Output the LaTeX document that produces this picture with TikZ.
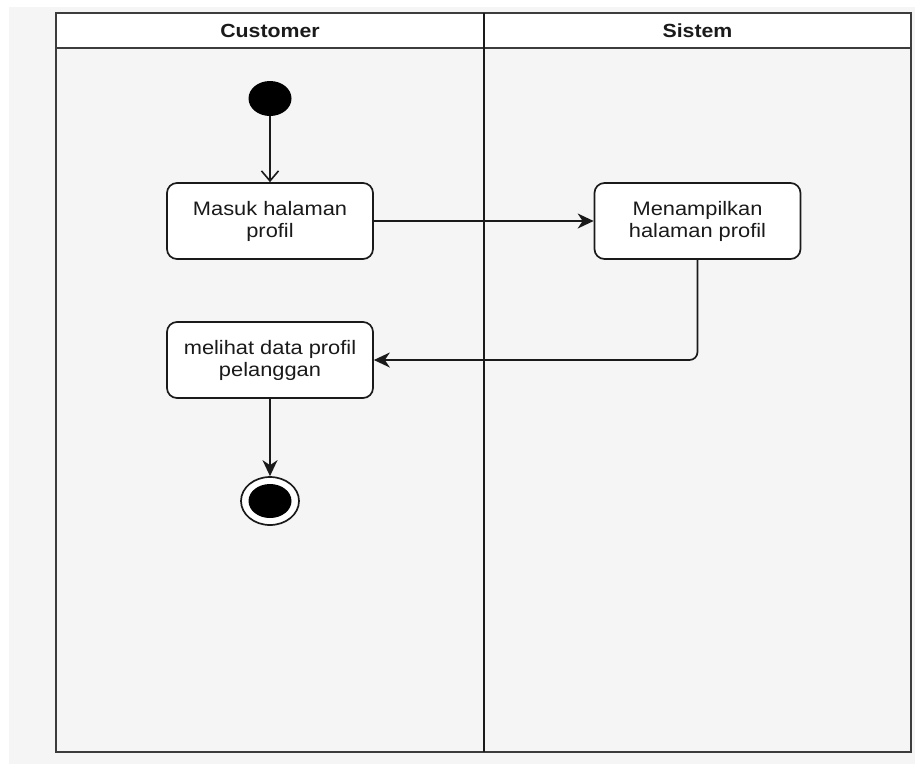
\documentclass[tikz,border=0pt]{standalone}
\usepackage{fontspec}
\setmainfont{Liberation Sans}[FakeStretch=1.12]
\usetikzlibrary{arrows.meta,shapes.geometric}

\definecolor{pagegray}{HTML}{F5F5F5}
\definecolor{ink}{HTML}{1A1A1A}

\begin{document}
\begin{tikzpicture}[x=1pt,y=-1pt,
  lane/.style={draw=ink!85, line width=2pt},
  divider/.style={draw=ink, line width=1.5pt},
  lanetitle/.style={font=\fontsize{19}{21}\selectfont\bfseries, text=ink, inner sep=0pt},
  action/.style={draw=ink, line width=1.7pt, fill=white, rounded corners=10pt,
    minimum width=206pt, minimum height=76pt, align=center, inner sep=0pt,
    font=\fontsize{19.5}{22}\selectfont, text=ink},
  initstate/.style={ellipse, fill=black, minimum width=43pt, minimum height=35pt, inner sep=0pt},
  finalring/.style={ellipse, draw=ink, line width=1.7pt, fill=white, minimum width=58pt, minimum height=48pt, inner sep=0pt},
  finaldot/.style={ellipse, fill=black, minimum width=43pt, minimum height=34pt, inner sep=0pt},
  flow/.style={draw=ink, line width=1.7pt, -{Stealth[length=16pt,width=15pt,inset=5pt]}},
  openflow/.style={draw=ink, line width=1.6pt, -{Straight Barb[length=10pt,width=17pt]}},
]
\useasboundingbox (0,0) rectangle (915,764);

% page and swimlane frame
\fill[pagegray] (9,7) rectangle (915,764);
\fill[white] (56,13) rectangle (911,48);
\draw[lane] (56,13) rectangle (911,752);
\draw[lane] (56,48) -- (911,48);
\draw[divider] (484,13) -- (484,752);

\node[lanetitle] (tcust) at (270,30.5) {Customer};
\node[lanetitle] (tsys) at (697.5,30.5) {Sistem};

% activities
\node[initstate] (start) at (270,98.5) {};
\node[action] (masuk) at (270,221) {Masuk halaman\\profil};
\node[action] (tampil) at (697.5,221) {Menampilkan\\halaman profil};
\node[action] (lihat) at (270,360) {melihat data profil\\pelanggan};
\node[finalring] (end) at (270,501) {};
\node[finaldot] (enddot) at (270,501) {};

% control flow
\draw[openflow] (start.south) -- (masuk.north);
\draw[flow] (masuk.east) -- (tampil.west);
\draw[flow, rounded corners=8pt] (tampil.south) |- (lihat.east);
\draw[flow] (lihat.south) -- (end.north);
\end{tikzpicture}
\end{document}
